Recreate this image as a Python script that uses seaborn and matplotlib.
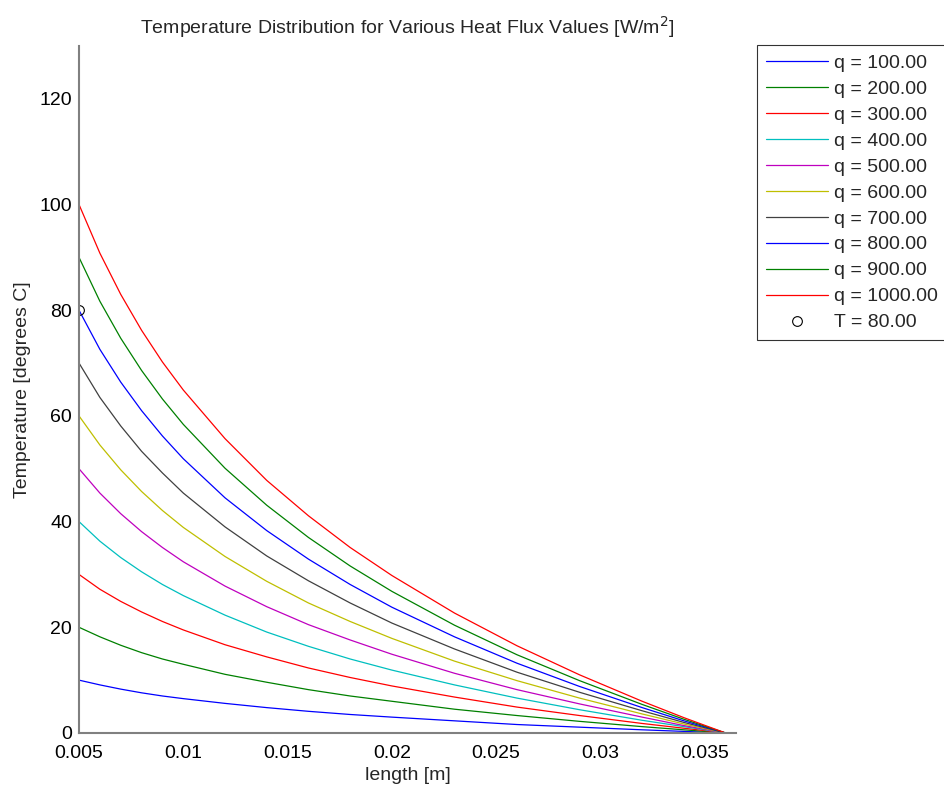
import numpy as np
import pandas as pd
import matplotlib
matplotlib.use("Agg")
import matplotlib.pyplot as plt
import seaborn as sns
from matplotlib.lines import Line2D

# positions along the wall [m]
length_m = [0.005, 0.006, 0.007, 0.008, 0.009, 0.010, 0.012, 0.014, 0.016,
            0.018, 0.020, 0.023, 0.026, 0.029, 0.032, 0.034, 0.036]

# heat flux values [W/m^2]
heat_flux = [100, 200, 300, 400, 500, 600, 700, 800, 900, 1000]

# temperatures, one list per heat flux
temp_q100 = [10, 9.1, 8.3, 7.6, 7.0, 6.5, 5.6, 4.8, 4.1, 3.5, 3.0, 2.3, 1.6, 1.1, 0.6, 0.3, 0]
temp_q200 = [20, 18.2, 16.6, 15.2, 14.0, 13.0, 11.1, 9.6, 8.2, 7.0, 6.0, 4.5, 3.3, 2.2, 1.2, 0.6, 0]
temp_q300 = [30, 27.2, 24.9, 22.9, 21.1, 19.5, 16.7, 14.4, 12.3, 10.5, 8.9, 6.8, 4.9, 3.3, 1.8, 0.9, 0]
temp_q400 = [40, 36.3, 33.2, 30.5, 28.1, 26.0, 22.3, 19.1, 16.4, 14.0, 11.9, 9.1, 6.6, 4.4, 2.4, 1.2, 0]
temp_q500 = [50, 45.4, 41.5, 38.1, 35.1, 32.4, 27.8, 23.9, 20.5, 17.6, 14.9, 11.3, 8.2, 5.5, 3.0, 1.4, 0]
temp_q600 = [60, 54.5, 49.8, 45.7, 42.1, 38.9, 33.4, 28.7, 24.6, 21.1, 17.9, 13.6, 9.9, 6.6, 3.6, 1.7, 0]
temp_q700 = [70, 63.5, 58.1, 53.3, 49.2, 45.4, 39.0, 33.5, 28.8, 24.6, 20.8, 15.9, 11.5, 7.7, 4.2, 2.0, 0]
temp_q800 = [80, 72.6, 66.4, 61.0, 56.2, 51.9, 44.5, 38.3, 32.9, 28.1, 23.8, 18.2, 13.2, 8.8, 4.8, 2.3, 0]
temp_q900 = [90, 81.7, 74.7, 68.6, 63.2, 58.4, 50.1, 43.1, 37.0, 31.6, 26.8, 20.4, 14.8, 9.9, 5.4, 2.6, 0]
temp_q1000 = [100, 90.8, 83.0, 76.2, 70.2, 64.9, 55.7, 47.8, 41.1, 35.1, 29.8, 22.7, 16.5, 11.0, 6.0, 2.9, 0]

# marked point
point_x = [0.005]
point_T = [80]

all_temps = [temp_q100, temp_q200, temp_q300, temp_q400, temp_q500,
             temp_q600, temp_q700, temp_q800, temp_q900, temp_q1000]

rows = []
for q, temps in zip(heat_flux, all_temps):
    for x, t in zip(length_m, temps):
        rows.append({"length": x, "T": t, "q": f"q = {q:.2f}"})
df = pd.DataFrame(rows)

# MATLAB-ish default colour order
matlab_colors = [(0, 0, 1), (0, 0.5, 0), (1, 0, 0), (0, 0.75, 0.75), (0.75, 0, 0.75),
                 (0.75, 0.75, 0), (0.25, 0.25, 0.25)]
palette = [matlab_colors[i % 7] for i in range(len(heat_flux))]

sns.set_style("white")
plt.rcParams['font.family'] = ['Liberation Sans', 'DejaVu Sans']

fig = plt.figure(figsize=(9.44, 7.89), dpi=100)
ax = fig.add_axes([0.0837, 0.071, 0.696, 0.8707])

sns.lineplot(data=df, x="length", y="T", hue="q", palette=palette,
             estimator=None, sort=False, linewidth=0.9, legend=False, ax=ax)
ax.plot(point_x, point_T, linestyle="none", marker="o", markersize=7,
        markerfacecolor="none", markeredgecolor="black", markeredgewidth=0.8)

ax.set_xlim(0.005, 0.0365)
ax.set_ylim(0, 130)
ax.set_xticks([0.005, 0.01, 0.015, 0.02, 0.025, 0.03, 0.035])
ax.set_xticklabels(["0.005", "0.01", "0.015", "0.02", "0.025", "0.03", "0.035"])
ax.set_yticks([0, 20, 40, 60, 80, 100, 120])

for side in ["top", "right"]:
    ax.spines[side].set_visible(False)
for side in ["left", "bottom"]:
    ax.spines[side].set_color("#808080")
    ax.spines[side].set_linewidth(1.5)
ax.tick_params(direction="in", length=6, width=1, color="#808080",
               labelsize=14, labelcolor="black")
ax.tick_params(axis="x", pad=9)
ax.tick_params(axis="y", pad=5)

ax.set_xlabel("length [m]", fontsize=14, labelpad=3)
ax.set_ylabel("Temperature [degrees C]", fontsize=14, labelpad=6)
ax.set_title("Temperature Distribution for Various Heat Flux Values [W/m$^2$]",
             fontsize=14, pad=9)

handles = [Line2D([], [], color=c, linewidth=0.9) for c in palette]
labels = [f"q = {q:.2f}" for q in heat_flux]
handles.append(Line2D([], [], linestyle="none", marker="o", markersize=7,
                      markerfacecolor="none", markeredgecolor="black", markeredgewidth=0.8))
labels.append(f"T = {point_T[0]:.2f}")
leg = ax.legend(handles, labels, loc="upper left", bbox_to_anchor=(1.032, 1.001),
                fontsize=14, frameon=True, fancybox=False, handlelength=3.2,
                handletextpad=0.3, labelspacing=0.43, borderpad=0.45,
                borderaxespad=0)
leg.get_frame().set_edgecolor("black")
leg.get_frame().set_linewidth(0.8)

fig.savefig("out.png", dpi=100)
